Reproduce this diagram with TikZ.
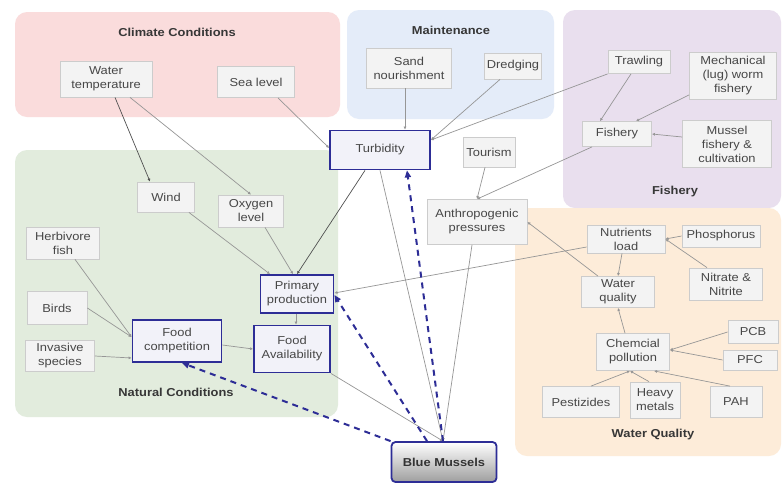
\documentclass[tikz,border=0pt]{standalone}
\usepackage{fontspec}
\newfontfamily\diagfont{Liberation Sans}[FakeStretch=1.12]
\usetikzlibrary{arrows.meta,calc}

\definecolor{climbg}{RGB}{250,220,220}
\definecolor{mainbg}{RGB}{228,236,249}
\definecolor{fishbg}{RGB}{233,223,238}
\definecolor{natbg}{RGB}{226,236,221}
\definecolor{wqbg}{RGB}{253,236,217}
\definecolor{boxfill}{RGB}{243,243,243}
\definecolor{boxline}{RGB}{204,204,204}
\definecolor{mblue}{RGB}{45,45,150}
\definecolor{edgegray}{RGB}{150,150,150}
\definecolor{edgedark}{RGB}{80,80,80}
\definecolor{labeltext}{RGB}{55,55,55}

\tikzset{
  region/.style={rounded corners=12pt},
  regionlabel/.style={font=\diagfont\bfseries\fontsize{11.5}{13}\selectfont, text=labeltext},
  factor/.style={draw=boxline, fill=boxfill, line width=0.8pt, align=center,
    font=\diagfont\fontsize{11.5}{14}\selectfont, text=black!72, inner sep=1pt},
  keybox/.style={factor, draw=mblue, line width=1.8pt, fill=white!94!mblue},
  link/.style={draw=edgegray, line width=0.7pt, -{Latex[length=3pt,width=3pt]}},
  darklink/.style={link, draw=edgedark},
  effect/.style={draw=mblue, line width=2pt, dash pattern=on 6pt off 5pt,
    -{Triangle[length=7pt,width=6pt]}}
}

\begin{document}
\begin{tikzpicture}[x=1pt,y=-1pt]
\fill[white] (0,0) rectangle (784,483);
\useasboundingbox (0,0) rectangle (784,483);

% thematic regions
\fill[climbg, region] (15,12) rectangle (340,117);
\fill[mainbg, region] (347,10) rectangle (554,119);
\fill[fishbg, region] (563,10) rectangle (781,208);
\fill[natbg, region] (15,150) rectangle (338,417);
\fill[wqbg, region] (515,208) rectangle (781,456);

\node[regionlabel] (lclim) at (177,32) {Climate Conditions};
\node[regionlabel] (lmain) at (451,30) {Maintenance};
\node[regionlabel] (lfish) at (675,192) {Fishery};
\node[regionlabel] (lnat) at (176,392) {Natural Conditions};
\node[regionlabel] (lwq) at (653,435) {Water Quality};

% factors
\node[factor, minimum width=92pt, minimum height=36pt] (wt) at (106,79) {Water\\temperature};
\node[factor, minimum width=77pt, minimum height=31pt] (sea) at (256,82) {Sea level};
\node[factor, minimum width=85pt, minimum height=40pt] (sand) at (409,68) {Sand\\nourishment};
\node[factor, minimum width=57pt, minimum height=26pt] (dredge) at (513,66) {Dredging};
\node[factor, minimum width=62pt, minimum height=23pt] (trawl) at (639,62) {Trawling};
\node[factor, minimum width=87pt, minimum height=47pt] (mech) at (733,76) {Mechanical\\(lug) worm\\fishery};
\node[factor, minimum width=69pt, minimum height=25pt] (fishery) at (617,134) {Fishery};
\node[factor, minimum width=89pt, minimum height=47pt] (mussel) at (727,144) {Mussel\\fishery \&\\cultivation};
\node[keybox, minimum width=100pt, minimum height=39pt] (turb) at (380,150) {Turbidity};
\node[factor, minimum width=52pt, minimum height=30pt] (tour) at (489,152) {Tourism};
\node[factor, minimum width=100pt, minimum height=45pt] (anthro) at (477,222) {Anthropogenic\\pressures};
\node[factor, minimum width=57pt, minimum height=30pt] (wind) at (166,197) {Wind};
\node[factor, minimum width=65pt, minimum height=32pt] (oxy) at (251,211) {Oxygen\\level};
\node[factor, minimum width=73pt, minimum height=32pt] (herb) at (63,243) {Herbivore\\fish};
\node[factor, minimum width=60pt, minimum height=33pt] (birds) at (57,308) {Birds};
\node[keybox, minimum width=73pt, minimum height=38pt] (pp) at (297,294) {Primary\\production};
\node[keybox, minimum width=89pt, minimum height=42pt] (fc) at (177,341) {Food\\competition};
\node[keybox, minimum width=76pt, minimum height=47pt] (fa) at (292,349) {Food\\Availability};
\node[factor, minimum width=69pt, minimum height=31pt] (inv) at (60,356) {Invasive\\species};
\node[factor, minimum width=78pt, minimum height=28pt] (nut) at (626,239) {Nutrients\\load};
\node[factor, minimum width=78pt, minimum height=22pt] (phos) at (721,236) {Phosphorus};
\node[factor, minimum width=73pt, minimum height=31pt] (wq) at (618,292) {Water\\quality};
\node[factor, minimum width=73pt, minimum height=32pt] (nitr) at (726,284) {Nitrate \&\\Nitrite};
\node[factor, minimum width=50pt, minimum height=23pt] (pcb) at (753,332) {PCB};
\node[factor, minimum width=54pt, minimum height=20pt] (pfc) at (750,360) {PFC};
\node[factor, minimum width=73pt, minimum height=37pt] (chem) at (633,352) {Chemcial\\pollution};
\node[factor, minimum width=77pt, minimum height=31pt] (pest) at (581,402) {Pestizides};
\node[factor, minimum width=50pt, minimum height=36pt] (heavy) at (655,400) {Heavy\\metals};
\node[factor, minimum width=52pt, minimum height=31pt] (pah) at (736,402) {PAH};

\node[draw=mblue, line width=1.8pt, rounded corners=4pt, top color=white, bottom color=black!38,
  minimum width=105pt, minimum height=40pt, text=black!80,
  font=\diagfont\bfseries\fontsize{11.5}{13}\selectfont] (bm) at (444,462) {Blue Mussels};

% influences
\draw[darklink] ([xshift=9pt]wt.south) -- ([xshift=-16pt]wind.north);
\draw[link] ([xshift=24pt]wt.south) -- (oxy.north);
\draw[link] ([xshift=22pt]sea.south) -- ([yshift=2pt]turb.west);
\draw[link] ([xshift=-4pt]sand.south) -- ([xshift=25pt]turb.north);
\draw[link] ([xshift=-13pt]dredge.south) -- ([yshift=10pt]turb.east);
\draw[link] (trawl.south west) -- ([yshift=10pt]turb.east);
\draw[link] ([xshift=-8pt]trawl.south) -- ([xshift=-17pt]fishery.north);
\draw[link] ([yshift=5pt]mech.south west) -- ([xshift=19pt]fishery.north);
\draw[link] ([yshift=7pt]mussel.west) -- (fishery.east);
\draw[link] ([xshift=-25pt]fishery.south) -- (anthro.north);
\draw[link] ([xshift=-4pt]tour.south) -- (anthro.north);
\draw[link] ([xshift=-20pt]wq.north) -- (anthro.east);
\draw[link] ([xshift=-5pt]anthro.south) -- ([xshift=-1pt]bm.north);
\draw[link] (turb.south) -- ([xshift=-1pt]bm.north);
\draw[link] (fa.south east) -- ([xshift=-1pt]bm.north);
\draw[link] ([yshift=-8pt]nut.west) -- ([yshift=1pt]pp.east);
\draw[link] ([xshift=-4pt]nut.south) -- (wq.north);
\draw[link] (phos.west) -- (nut.east);
\draw[link] ([xshift=-19pt]nitr.north) -- (nut.east);
\draw[link] ([xshift=-8pt]chem.north) -- (wq.south);
\draw[link] (pcb.west) -- ([yshift=2pt]chem.east);
\draw[link] (pfc.west) -- ([yshift=2pt]chem.east);
\draw[link] ([xshift=10pt]pest.north) -- ([xshift=-3pt]chem.south);
\draw[link] ([xshift=-6pt]heavy.north) -- ([xshift=-3pt]chem.south);
\draw[link] ([xshift=-6pt]pah.north) -- ([xshift=21pt]chem.south);
\draw[link] ([xshift=-6pt]wind.south east) -- ([xshift=-27pt]pp.north);
\draw[link] ([xshift=14pt]oxy.south) -- ([xshift=-4pt]pp.north);
\draw[darklink] ([xshift=-15pt]turb.south) -- (pp.north);
\draw[link] ([xshift=12pt]herb.south) -- ([yshift=4pt]fc.west);
\draw[link] (birds.east) -- ([yshift=4pt]fc.west);
\draw[link] (inv.east) -- ([yshift=-17pt]fc.west);
\draw[link] ([yshift=-4pt]fc.east) -- (fa.west);
\draw[link] ([xshift=-1pt]pp.south) -- ([xshift=4pt]fa.north);

% feedback of the mussels
\draw[effect] (bm.north west) -- ([xshift=5pt]fc.south);
\draw[effect] ([xshift=-17pt]bm.north) -- ([yshift=-1pt]pp.east);
\draw[effect] ([xshift=-1pt]bm.north) -- ([xshift=27pt]turb.south);
\end{tikzpicture}
\end{document}
